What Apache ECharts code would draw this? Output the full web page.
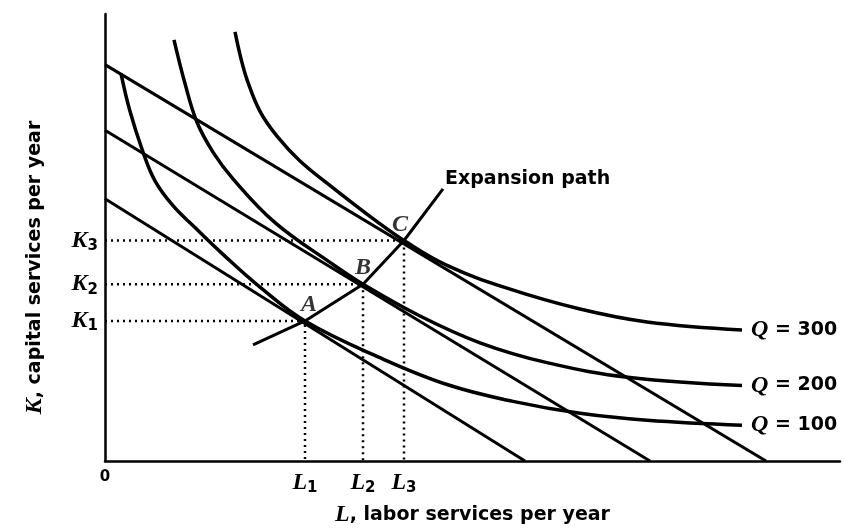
<!DOCTYPE html>
<html>
  <head>
    <meta charset="UTF-8">
    <title>Expansion path</title>
    <script src="https://cdn.jsdelivr.net/npm/echarts@6/dist/echarts.min.js"></script>
    <style>
      html, body {margin: 0; padding: 0; background: #fff;}
    </style>
  </head>
  <body>
    <div id="box" style="width:845px;height:532px"></div>
    <script>
        // isoquants (L, K)
        var q100L = [16, 25, 38, 50, 68, 90, 118, 155, 200, 275, 342, 408, 475, 542, 637];
        var q100K = [390, 352, 311, 282, 257, 235, 208, 175, 141, 104, 77, 60, 48, 41, 36];
        var q200L = [69, 80, 92, 108, 128, 170, 225, 258, 315, 375, 442, 525, 637];
        var q200K = [424, 380, 341, 311, 284, 240, 200, 178, 146, 119, 99, 84, 76];
        var q300L = [130, 136, 142, 155, 172, 195, 228, 272, 299, 342, 402, 475, 542, 637];
        var q300K = [432, 405, 384, 352, 327, 302, 275, 241, 222, 197, 174, 153, 140, 132];
        // isocost lines: K intercept and L intercept
        var costK = [264, 333, 399];
        var costL = [420, 545, 661];
        // tangency points A, B, C
        var ptNames = ['A', 'B', 'C'];
        var ptL = [200, 258, 299];
        var ptK = [141, 178, 222];
        // expansion path
        var pathL = [148, 200, 258, 299, 338];
        var pathK = [117, 141, 178, 222, 274];
        var qLabels = ['300', '200', '100'];

        function zip(a, b) {
            return a.map(function (v, i) { return [v, b[i]]; });
        }

        var serif = 'Liberation Serif';
        var sans = 'DejaVu Sans';
        var black = '#000';

        var rich = {
            i: {fontFamily: serif, fontStyle: 'italic', fontWeight: 'bold', fontSize: 24, color: black},
            sub: {fontFamily: sans, fontWeight: 'bold', fontSize: 15, color: black, padding: [11, 0, 0, 0]},
            n: {fontFamily: sans, fontWeight: 'bold', fontSize: 19, color: black},
            t: {fontFamily: sans, fontWeight: 'bold', fontSize: 19, color: black},
            z: {fontFamily: sans, fontWeight: 'bold', fontSize: 15, color: black}
        };

        var series = [];
        [[q300L, q300K], [q200L, q200K], [q100L, q100K]].forEach(function (q, i) {
            series.push({
                type: 'line', smooth: 0.4, symbol: 'none',
                data: zip(q[0], q[1]),
                lineStyle: {color: black, width: 3.5},
                endLabel: {
                    show: true, distance: 9,
                    formatter: '{i|Q}{t| = ' + qLabels[i] + '}',
                    rich: rich
                }
            });
        });
        costK.forEach(function (k, i) {
            series.push({
                type: 'line', symbol: 'none',
                data: [[0, k], [costL[i], 0]],
                lineStyle: {color: black, width: 3}
            });
        });
        ptL.forEach(function (l, i) {
            series.push({
                type: 'line', symbol: 'none',
                data: [[0, ptK[i]], [l, ptK[i]], [l, 0]],
                lineStyle: {color: black, width: 2.5, type: [2, 4]}
            });
        });
        series.push({
            type: 'line', symbol: 'none',
            data: zip(pathL, pathK),
            lineStyle: {color: black, width: 3},
            endLabel: {
                show: true, distance: 2, offset: [0, -10],
                formatter: 'Expansion path',
                fontFamily: sans, fontWeight: 'bold', fontSize: 19, color: black
            }
        });
        var labelOffset = [[4, 0], [0, 0], [-4, 0]];
        series.push({
            type: 'scatter', symbolSize: 0,
            data: ptL.map(function (l, i) {
                return {
                    value: [l, ptK[i]],
                    label: {show: true, position: 'top', distance: 4, offset: labelOffset[i],
                            formatter: '{i|' + ptNames[i] + '}', rich: rich}
                };
            })
        });

        var myChart = echarts.init(document.getElementById('box'));
        myChart.setOption({
            backgroundColor: '#fff',
            animation: false,
            grid: {left: 105, top: 14, width: 735, height: 450},
            xAxis: {
                type: 'value', min: 0, max: 735,
                splitLine: {show: false},
                axisTick: {show: false},
                axisLine: {lineStyle: {color: black, width: 2.5}},
                axisLabel: {
                    customValues: [0].concat(ptL),
                    margin: 9,
                    formatter: function (v) {
                        var i = ptL.indexOf(v);
                        return i < 0 ? '{z|0}' : '{i|L}{sub|' + (i + 1) + '}';
                    },
                    rich: rich
                },
                name: '{i|L}{n|, labor services per year}',
                nameLocation: 'middle', nameGap: 42,
                nameTextStyle: {rich: rich}
            },
            yAxis: {
                type: 'value', min: 0, max: 450,
                splitLine: {show: false},
                axisTick: {show: false},
                axisLine: {show: true, lineStyle: {color: black, width: 2.5}},
                axisLabel: {
                    customValues: ptK,
                    margin: 7,
                    formatter: function (v) {
                        return '{i|K}{sub|' + (ptK.indexOf(v) + 1) + '}';
                    },
                    rich: rich
                },
                name: '{i|K}{n|, capital services per year}',
                nameLocation: 'middle', nameGap: 58, nameRotate: 90,
                nameTextStyle: {rich: rich, padding: [0, 60, 0, 0]}
            },
            series: series
        });
    </script>
  </body>
</html>
